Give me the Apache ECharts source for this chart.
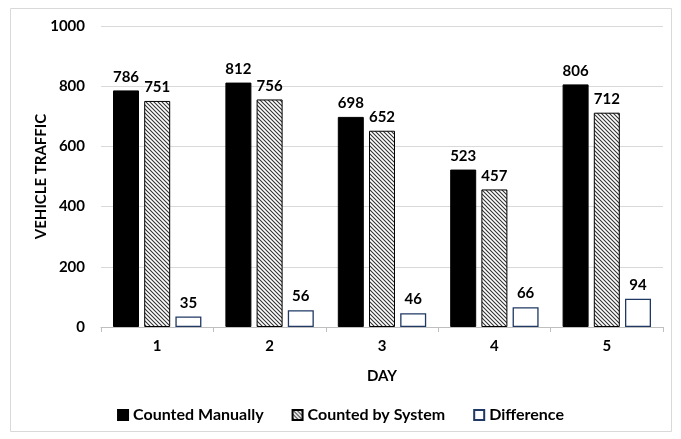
<!DOCTYPE html>
<html><head><meta charset="utf-8">
<script src="https://cdn.jsdelivr.net/npm/echarts@6/dist/echarts.min.js"></script>
<style>html,body{margin:0;padding:0;background:#fff}#c{width:681px;height:439px}</style>
</head><body><div id="c"></div>
<script>
const days = ['1','2','3','4','5'];
const countedManually = [786, 812, 698, 523, 806];
const countedBySystem = [751, 756, 652, 457, 712];
const difference = [35, 56, 46, 66, 94];

function hatch(){
  const c = document.createElement('canvas');
  c.width = 4; c.height = 4;
  const g = c.getContext('2d');
  g.fillStyle = '#fff'; g.fillRect(0,0,4,4);
  g.strokeStyle = '#333'; g.lineWidth = 1.1;
  g.beginPath();
  g.moveTo(-1,-1); g.lineTo(5,5);
  g.moveTo(-1,3); g.lineTo(1,5);
  g.moveTo(3,-1); g.lineTo(5,1);
  g.stroke();
  return c;
}
const pat = {image: hatch(), repeat: 'repeat'};
const font = 'Lato';
const lbl = {show:true, position:'top', fontFamily:font, fontWeight:'bold', fontSize:15, color:'#000', distance:6};
const chart = echarts.init(document.getElementById('c'));
chart.setOption({
  animation:false,
  graphic:[{type:'rect', shape:{x:10.5,y:8.5,width:661,height:423}, style:{fill:'none', stroke:'#d9d9d9', lineWidth:1}}],
  grid:{left:101, right:18, top:26, bottom:112},
  legend:{bottom:11, left:'center', icon:'rect', itemWidth:10, itemHeight:10, itemGap:28,
    textStyle:{fontFamily:font, fontWeight:'bold', fontSize:16, color:'#000'},
    data:['Counted Manually','Counted by System','Difference']},
  xAxis:{type:'category', data:days, name:'DAY', nameLocation:'middle', nameGap:42,
    nameTextStyle:{fontFamily:font, fontWeight:'bold', fontSize:15, color:'#000'},
    axisLine:{lineStyle:{color:'#bfbfbf'}}, axisTick:{show:true, length:5, lineStyle:{color:'#bfbfbf'}},
    axisLabel:{fontFamily:font, fontWeight:'bold', fontSize:15, color:'#000', margin:12}},
  yAxis:{type:'value', min:0, max:1000, interval:200, name:'VEHICLE TRAFFIC', nameLocation:'middle', nameGap:52,
    nameMoveOverlap:false,
    nameTextStyle:{fontFamily:font, fontWeight:'bold', fontSize:15, color:'#000'},
    axisLine:{show:false}, axisTick:{show:false},
    splitLine:{lineStyle:{color:'#d9d9d9'}},
    axisLabel:{fontFamily:font, fontWeight:'bold', fontSize:15, color:'#000', margin:16, formatter:v=>String(v)}},
  series:[
    {name:'Counted Manually', type:'bar', data:countedManually, barWidth:26, barGap:'20%',
      itemStyle:{color:'#000', borderColor:'#000', borderWidth:1}, label:lbl},
    {name:'Counted by System', type:'bar', data:countedBySystem, barWidth:26, barGap:'20%',
      itemStyle:{color:pat, borderColor:'#000', borderWidth:1}, label:lbl},
    {name:'Difference', type:'bar', data:difference, barWidth:26, barGap:'20%',
      itemStyle:{color:'#fff', borderColor:'#1f3864', borderWidth:1.3}, label:lbl}
  ]
});
</script></body></html>
